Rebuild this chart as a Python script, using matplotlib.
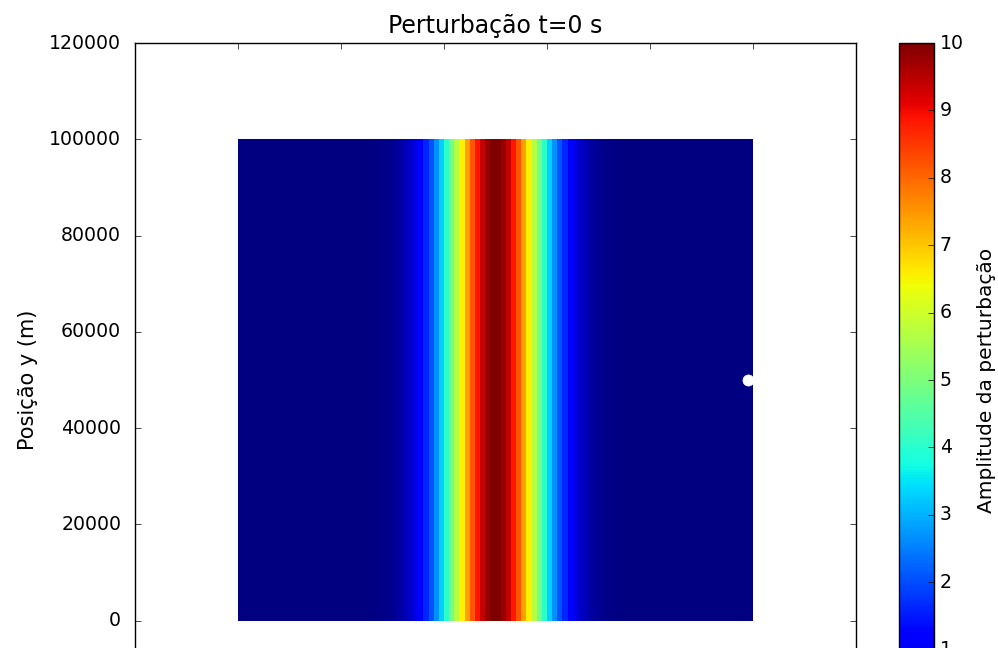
import numpy as np
import matplotlib
matplotlib.use('Agg')
import matplotlib.pyplot as plt

plt.style.use('classic')
plt.rcParams['font.family'] = ['DejaVu Sans']
plt.rcParams['font.size'] = 13.6

# grid 100 km x 100 km, columns every 1 km
x_edges = np.arange(0, 100001, 1000)
y_edges = np.array([0, 100000])

# amplitude of the perturbation in the central columns (25..74), zero elsewhere
amp_center = [0.02, 0.04, 0.06, 0.10, 0.15, 0.22, 0.33, 0.47, 0.66, 0.90,
              1.22, 1.62, 2.10, 2.67, 3.32, 4.06, 4.86, 5.70, 6.55, 7.39,
              8.17, 8.85, 9.39, 9.78, 9.98,
              9.98, 9.78, 9.39, 8.85, 8.17, 7.39, 6.55, 5.70, 4.86, 4.06,
              3.32, 2.67, 2.10, 1.62, 1.22, 0.90, 0.66, 0.47, 0.33, 0.22,
              0.15, 0.10, 0.06, 0.04, 0.02]
amp = np.zeros(100)
amp[25:75] = amp_center
Z = np.tile(amp, (1, 1))

# probe point
px = [99000]
py = [50000]

fig = plt.figure(figsize=(9.98, 6.48), dpi=100, facecolor='white')
ax = fig.add_axes([0.1353, -0.1065, 0.7224, 1.0401])
cax = fig.add_axes([0.9008, -0.1065, 0.0351, 1.0401])

pc = ax.pcolormesh(x_edges, y_edges, Z, cmap='jet', vmin=0, vmax=10)
ax.plot(px, py, 'o', color='white', markeredgecolor='white', markersize=8)
ax.set_xlim(-20000, 120000)
ax.set_ylim(-20000, 120000)
ax.set_xticks(np.arange(-20000, 120001, 20000))
ax.set_yticks(np.arange(0, 120001, 20000))
ax.tick_params(axis='y', pad=10)
ax.tick_params(axis='x', labelbottom=False)
ax.set_ylabel(u'Posição y (m)', fontsize=15, labelpad=8)
ax.set_title(u'Perturbação t=0 s', fontsize=17, y=1.005)

cb = fig.colorbar(pc, cax=cax)
cb.set_ticks(np.arange(0, 11, 1))
cb.set_label(u'Amplitude da perturbação', fontsize=14.5, labelpad=10)

fig.savefig('out.png', dpi=100, facecolor='white')
